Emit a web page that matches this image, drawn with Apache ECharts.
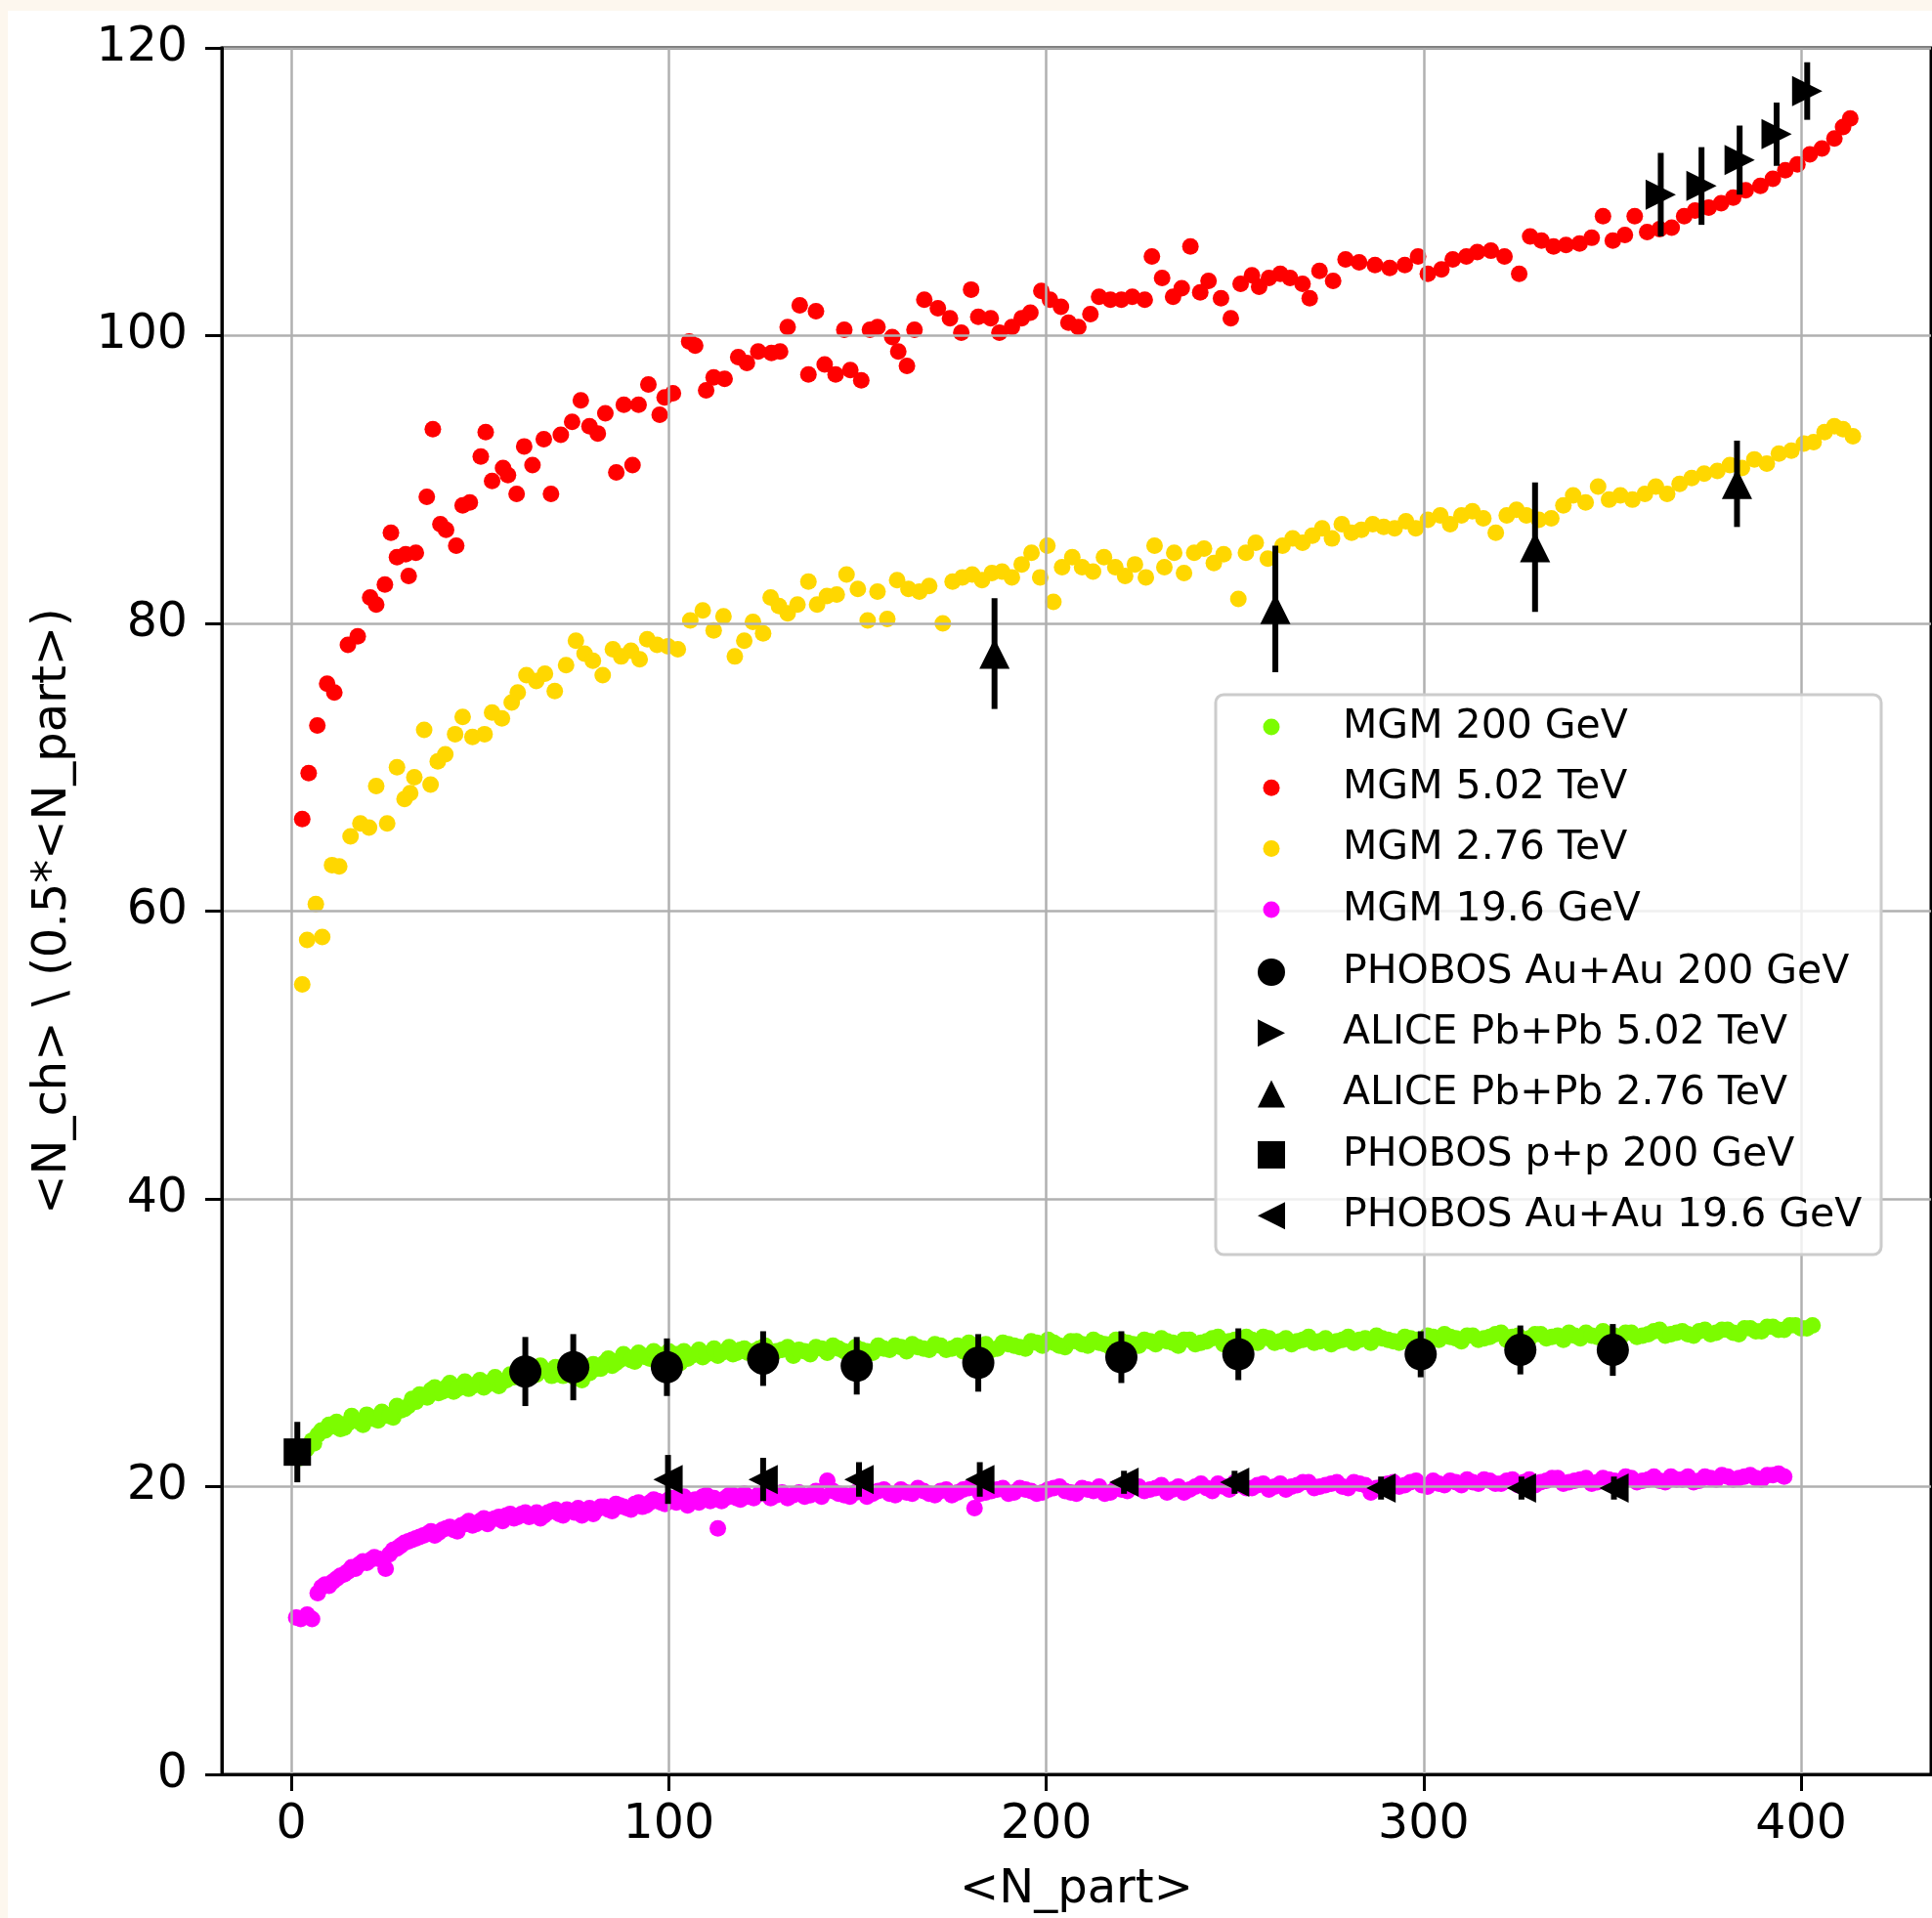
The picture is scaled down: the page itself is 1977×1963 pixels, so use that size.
<!DOCTYPE html>
<html><head><meta charset="utf-8">
<script src="https://cdn.jsdelivr.net/npm/echarts@6/dist/echarts.min.js"></script>
<style>html,body{margin:0;padding:0;background:#fdf7ee;}#c{width:1977px;height:1963px;}</style>
</head><body><div id="c"></div>
<script>
// ---------- tick labels ----------
const xTicks = [0, 100, 200, 300, 400];
const yTicks = [0, 20, 40, 60, 80, 100, 120];

// ---------- MGM model points [N_part, value] ----------
const mgm200 = [[2.5,22.0],[4,22.6],[5.5,23.2],[7,23.6],[9,23.9],[11,24.2],[13,24.0],[15,24.4],[17,24.6],[19,24.3],[21,24.8],[23,24.6],[25,25.0],[27,24.8],[29,25.3],[31,25.6],[33,25.9],[35,26.3],[37,26.7],[39,26.5],[41,26.9],[43,26.6],[45,27.0],[47,26.8],[49,27.1],[51,26.9],[53,27.3],[55,27.0],[57,27.4],[59,27.6],[61,27.9],[63,28.3],[65,27.8],[67,28.1],[69,27.7],[71,28.0],[73,28.3],[75,27.6],[77,27.4],[79,27.9],[81,28.2],[83,28.6],[85,28.4],[87,28.8],[89,29.0],[91,28.7],[93,29.1],[95,28.9],[97,29.2],[99,28.8],[101,29.0],[103,28.6],[105,28.9],[107,29.2],[109,29.0],[111,29.3],[113,29.1],[115,29.4],[117,29.2],[119,29.5],[121,29.3],[124,29.6],[127,29.2],[130,29.5],[133,29.1],[136,29.4],[139,29.7],[142,29.3],[145,29.6],[148,29.2],[151,29.5],[154,29.3],[157,29.6],[160,29.8],[163,29.4],[166,29.7],[169,29.5],[172,29.8],[175,29.6],[178,29.4],[181,29.7],[184,29.9],[187,29.6],[190,29.9],[193,29.7],[196,30.1],[199,29.8],[202,30.0],[205,29.7],[208,30.1],[211,29.8],[214,30.0],[217,29.7],[220,30.1],[223,29.9],[226,30.2],[229,29.9],[232,30.1],[235,29.8],[238,30.2],[241,30.0],[244,30.3],[247,29.9],[250,30.2],[253,30.4],[256,30.0],[259,30.3],[262,30.1],[265,29.9],[268,30.2],[271,30.0],[274,30.3],[277,30.1],[280,30.4],[283,30.2],[286,30.0],[289,30.3],[292,30.1],[295,30.4],[298,30.2],[301,30.5],[304,30.2],[307,30.4],[310,30.1],[313,30.5],[316,30.3],[319,30.6],[322,30.2],[325,30.5],[328,30.3],[331,30.6],[334,30.4],[337,30.2],[340,30.5],[343,30.7],[346,30.4],[349,30.6],[352,30.3],[355,30.7],[358,30.5],[361,30.8],[364,30.5],[367,30.7],[370,30.6],[373,30.8],[376,30.6],[379,30.9],[382,30.7],[385,31.0],[388,30.8],[391,31.1],[394,30.9],[397,31.2],[400,31.0],[403,31.2],
[6,23.0],[8,23.9],[10,24.3],[12,24.5],[14,24.1],[16,24.9],[18,24.5],[20,25.0],[22,24.7],[24,25.2],[26,24.9],[28,25.6],[30,25.4],[32,26.1],[34,26.4],[36,26.2],[38,26.9],[40,26.6],[42,27.2],[44,26.8],[46,27.3],[48,27.0],[50,27.4],[52,27.1],[54,27.6],[56,27.3],[58,27.8],[60,28.1],[62,27.7],[64,28.0],[66,28.4],[68,28.0],[70,28.3],[72,27.7],[74,28.0],[76,27.9],[78,28.3],[80,28.5],[82,28.2],[84,28.9],[86,28.6],[88,29.2],[90,28.8],[92,29.3],[94,29.0],[96,29.4],[98,29.1],[100,29.4],[102,29.2],[104,29.4],[106,29.1],[108,29.5],[110,29.2],[112,29.6],[114,29.3],[116,29.7],[118,29.3],[120,29.6],[122.5,29.4],[125.5,29.8],[128.5,29.4],[131.5,29.7],[134.5,29.5],[137.5,29.2],[140.5,29.6],[143.5,29.8],[146.5,29.4],[149.5,29.7],[152.5,29.4],[155.5,29.8],[158.5,29.5],[161.5,29.7],[164.5,29.9],[167.5,29.6],[170.5,29.9],[173.5,29.5],[176.5,29.8],[179.5,30.0],[182.5,29.7],[185.5,29.5],[188.5,30.0],[191.5,29.8],[194.5,29.6],[197.5,30.0],[200.5,30.2],[203.5,29.8],[206.5,30.1],[209.5,29.9],[212.5,30.2],[215.5,29.9],[218.5,30.2],[221.5,30.0],[224.5,29.8],[227.5,30.1],[230.5,30.3],[233.5,30.0],[236.5,30.2],[239.5,29.9],[242.5,30.1],[245.5,30.4],[248.5,30.1],[251.5,29.9],[254.5,30.2],[257.5,30.4],[260.5,30.0],[263.5,30.3],[266.5,30.1],[269.5,30.4],[272.5,30.1],[275.5,29.9],[278.5,30.2],[281.5,30.0],[284.5,30.3],[287.5,30.5],[290.5,30.2],[293.5,30.0],[296.5,30.3],[299.5,30.1],[302.5,30.4],[305.5,30.6],[308.5,30.3],[311.5,30.5],[314.5,30.2],[317.5,30.4],[320.5,30.7],[323.5,30.4],[326.5,30.2],[329.5,30.6],[332.5,30.3],[335.5,30.5],[338.5,30.7],[341.5,30.3],[344.5,30.5],[347.5,30.8],[350.5,30.5],[353.5,30.7],[356.5,30.4],[359.5,30.6],[362.5,30.9],[365.5,30.6],[368.5,30.8],[371.5,30.5],[374.5,30.9],[377.5,30.7],[380.5,30.9],[383.5,30.6],[386.5,31.0],[389.5,30.8],[392.5,31.1],[395.5,30.9],[398.5,31.2],[401.5,31.0]];

const mgm502 = [[2.9,66.4],[4.6,69.6],[6.9,72.9],[9.5,75.8],[11.4,75.2],[15,78.5],[17.6,79.1],[20.9,81.8],[22.5,81.3],[24.8,82.7],[26.4,86.3],[28,84.6],[30.3,84.8],[31.1,83.3],[33,84.9],[35.9,88.8],[37.5,93.5],[39.5,86.9],[41,86.5],[43.7,85.4],[45.4,88.2],[47.3,88.4],[50.2,91.6],[51.5,93.3],[53.2,89.9],[56.1,90.8],[57.4,90.3],[59.7,89],[61.7,92.3],[63.9,91],[66.9,92.8],[68.8,89],[71.4,93.1],[74.4,94],[76.7,95.5],[79,93.7],[81.2,93.2],[83.2,94.6],[86.1,90.5],[88.1,95.2],[90.4,91],[92,95.2],[94.6,96.6],[97.6,94.5],[98.9,95.7],[101.1,96],[105.4,99.6],[107,99.3],[109.9,96.2],[111.9,97.1],[114.8,97],[118.4,98.5],[120.7,98.1],[123.7,98.9],[127.2,98.8],[129.5,98.9],[131.5,100.6],[134.7,102.1],[137,97.3],[139,101.7],[141.3,98],[144.2,97.3],[146.5,100.4],[148.1,97.6],[151,96.9],[153.3,100.4],[155.3,100.6],[159.2,99.9],[160.8,98.9],[163.1,97.9],[165.1,100.4],[167.7,102.5],[171.3,101.9],[174.5,101.2],[177.5,100.2],[180.1,103.2],[182,101.3],[185.3,101.2],[187.6,100.2],[190.9,100.6],[193.5,101.2],[195.8,101.6],[198.7,103.1],[201,102.5],[203.9,102],[205.9,100.9],[208.5,100.6],[211.7,101.5],[214,102.7],[217,102.5],[219.9,102.5],[222.8,102.7],[226.1,102.5],[228,105.5],[230.7,104],[233.6,102.7],[235.9,103.3],[238.2,106.2],[240.8,103],[243,103.8],[246.3,102.6],[248.9,101.2],[251.5,103.6],[254.5,104.2],[256.4,103.4],[259,104],[262,104.3],[264.6,104],[267.9,103.6],[269.8,102.6],[272.4,104.5],[276,103.8],[279.3,105.3],[282.9,105.1],[287.1,104.9],[291,104.7],[295,104.9],[298.5,105.5],[301.1,104.3],[304.7,104.6],[307.7,105.3],[311.3,105.5],[314.2,105.8],[317.8,105.9],[321.4,105.5],[325.3,104.3],[328.2,106.9],[331.2,106.6],[334.4,106.2],[337.7,106.3],[341.3,106.4],[344.5,106.8],[347.5,108.3],[350.1,106.6],[353.3,107],[355.9,108.3],[359.2,107.2],[362.5,107.4],[365.7,107.5],[369,108.3],[371.9,108.7],[375.5,108.9],[378.8,109.2],[382,109.6],[385.3,110.1],[389.2,110.4],[392.5,110.9],[395.8,111.5],[399,111.9],[402.3,112.6],[405.5,113],[408.8,113.7],[411.1,114.5],[413,115.1]];

const mgm276 = [[2.9,54.9],[4.2,58],[6.5,60.5],[8.2,58.2],[10.8,63.2],[12.7,63.1],[15.7,65.2],[18.3,66.1],[20.6,65.8],[22.5,68.7],[25.4,66.1],[28,70],[30,67.8],[31.5,68.2],[32.6,69.3],[35.2,72.6],[36.9,68.8],[38.8,70.4],[40.8,70.9],[43.4,72.3],[45.4,73.5],[48,72.1],[51.2,72.3],[53.2,73.8],[55.8,73.4],[58.4,74.5],[60,75.2],[62.3,76.4],[64.9,76],[67.2,76.5],[69.8,75.3],[72.8,77.1],[75.4,78.8],[77.7,77.9],[79.9,77.4],[82.5,76.4],[85.2,78.2],[87.4,77.7],[90,78.1],[92.3,77.5],[94.3,78.9],[96.9,78.5],[99.8,78.4],[102.4,78.2],[105.7,80.2],[109,80.9],[111.9,79.5],[114.5,80.5],[117.5,77.7],[120,78.8],[122.3,80.1],[125,79.3],[127,81.8],[129.2,81.2],[131.5,80.7],[134.1,81.3],[137,82.9],[139.3,81.3],[141.9,81.9],[144.5,82],[147.1,83.4],[150.1,82.4],[152.7,80.2],[155.3,82.2],[157.9,80.3],[160.5,83],[163.5,82.4],[166.4,82.2],[169,82.6],[172.6,80],[175.2,82.9],[177.8,83.2],[180.4,83.4],[183,83],[185.6,83.5],[188.3,83.6],[190.9,83.2],[193.5,84.1],[196.1,84.9],[198.4,83.2],[200.3,85.4],[201.9,81.5],[204.2,83.9],[206.9,84.6],[209.5,83.9],[212.4,83.6],[215.3,84.6],[218.3,83.9],[220.9,83.3],[223.5,84.1],[226.4,83.2],[228.7,85.4],[231.3,83.9],[233.9,84.9],[236.5,83.5],[239.2,84.9],[241.8,85.2],[244.4,84.2],[247,84.8],[250.9,81.7],[252.9,84.9],[255.5,85.6],[258.7,84.5],[262.6,85.4],[265.3,85.9],[267.9,85.6],[270.5,86.1],[273.1,86.6],[275.7,85.9],[278.3,86.9],[280.9,86.3],[283.5,86.5],[286.5,86.9],[289.4,86.7],[292.3,86.6],[295.3,87.1],[297.9,86.6],[301.1,87.2],[304.4,87.5],[307,86.9],[310,87.5],[312.9,87.8],[315.8,87.3],[319.1,86.3],[322,87.5],[324.6,87.9],[327.2,87.5],[330.5,87.2],[333.8,87.3],[337,88.2],[339.6,88.9],[342.9,88.4],[346.2,89.5],[349.1,88.6],[352.1,88.9],[355.3,88.6],[358.6,89],[361.5,89.5],[364.5,89],[367.8,89.7],[371,90.1],[374.3,90.4],[377.8,90.6],[381.1,91],[384.3,90.8],[387.6,91.4],[390.9,91.1],[394.1,91.8],[397.4,92],[400.7,92.5],[403.3,92.6],[406.2,93.3],[408.8,93.7],[411.1,93.5],[413.7,93]];

const mgm196 = [[1.3,10.9],[4.2,11.1],[5.5,10.8],[7,12.6],[9,13.2],[11,13.4],[13,13.8],[15,14.1],[17,14.3],[19,14.8],[21,14.9],[23,15.0],[25,14.3],[27,15.6],[29,15.9],[31,16.2],[33,16.4],[35,16.6],[37,16.9],[39,16.8],[41,17.1],[43,17.0],[45,17.3],[47,17.6],[49,17.4],[51,17.8],[53,17.7],[55,17.9],[57,18.0],[59,17.8],[61,18.1],[63,17.9],[65,18.2],[67,18.0],[69,18.3],[71,18.1],[73,18.4],[75,18.2],[77,18.0],[79,18.5],[81,18.4],[83,18.6],[85,18.3],[87,18.7],[89,18.5],[91,18.8],[93,18.6],[95,18.9],[97,19.0],[99,18.8],[101,19.2],[103,19.0],[105,18.7],[107,19.1],[109,19.3],[111,19.0],[113,17.1],[115,19.2],[117,19.4],[119,19.1],[121,19.3],[124,19.5],[127,19.2],[130,19.6],[133,19.4],[136,19.3],[139,19.7],[142,20.4],[145,19.5],[148,19.3],[151,19.7],[154,19.5],[157,19.8],[160,19.4],[163,19.6],[166,19.9],[169,19.5],[172,19.7],[175,19.4],[178,19.8],[181,18.5],[184,19.6],[187,19.8],[190,19.5],[193,19.9],[196,19.7],[199,19.6],[202,19.9],[205,19.7],[208,19.5],[211,19.8],[214,20.0],[217,19.6],[220,19.8],[223,20.1],[226,19.7],[229,19.9],[232,19.6],[235,20.0],[238,19.8],[241,20.2],[244,19.7],[247,20.0],[250,20.3],[253,19.9],[256,20.1],[259,19.8],[262,20.2],[265,20.0],[268,20.3],[271,19.9],[274,20.1],[277,20.3],[280,19.9],[283,20.2],[286,19.6],[289,20.0],[292,20.3],[295,20.1],[298,20.4],[301,20.0],[304,20.2],[307,20.4],[310,20.1],[313,20.3],[316,20.5],[319,20.2],[322,20.4],[325,20.1],[328,20.5],[331,20.3],[334,20.6],[337,20.2],[340,20.4],[343,20.6],[346,20.3],[349,20.5],[352,20.2],[355,20.6],[358,20.4],[361,20.7],[364,20.3],[367,20.5],[370,20.7],[373,20.4],[376,20.6],[379,20.8],[382,20.5],[385,20.7],[388,20.6],[391,20.8],[394,20.9],[395.5,20.7],
[2.5,10.8],[8,13.0],[10,13.1],[12,13.6],[14,13.9],[16,14.4],[18,14.6],[20,14.7],[22,15.1],[26,15.3],[28,15.7],[30,16.1],[32,16.3],[34,16.5],[36,16.7],[38,16.6],[40,17.0],[42,17.2],[44,16.9],[46,17.4],[48,17.3],[50,17.6],[52,17.4],[54,17.8],[56,17.6],[58,18.1],[60,17.9],[62,18.2],[64,18.0],[66,17.8],[68,18.2],[70,18.4],[72,18.0],[74,18.3],[76,18.5],[78,18.3],[80,18.1],[82,18.6],[84,18.4],[86,18.8],[88,18.6],[90,18.4],[92,18.9],[94,18.7],[96,19.1],[98,18.9],[100,19.1],[102,18.9],[104,19.3],[106,19.0],[108,18.9],[110,19.4],[112,19.2],[114,19.0],[116,19.4],[118,19.2],[120,19.5],[122.5,19.2],[125.5,19.6],[128.5,19.4],[131.5,19.2],[134.5,19.6],[137.5,19.4],[140.5,19.3],[143.5,19.7],[146.5,19.4],[149.5,19.6],[152.5,19.3],[155.5,19.7],[158.5,19.5],[161.5,19.8],[164.5,19.5],[167.5,19.7],[170.5,19.4],[173.5,19.8],[176.5,19.6],[179.5,19.9],[182.5,19.5],[185.5,19.7],[188.5,19.9],[191.5,19.6],[194.5,19.8],[197.5,19.5],[200.5,19.8],[203.5,20.0],[206.5,19.6],[209.5,19.9],[212.5,19.7],[215.5,19.5],[218.5,19.9],[221.5,19.7],[224.5,20.0],[227.5,19.8],[230.5,20.1],[233.5,19.8],[236.5,19.6],[239.5,20.0],[242.5,19.9],[245.5,20.2],[248.5,19.8],[251.5,20.1],[254.5,19.9],[257.5,20.2],[260.5,20.0],[263.5,19.8],[266.5,20.1],[269.5,20.3],[272.5,20.0],[275.5,20.2],[278.5,20.0],[281.5,20.3],[284.5,20.1],[287.5,19.9],[290.5,20.2],[293.5,20.0],[296.5,20.3],[299.5,20.1],[302.5,20.4],[305.5,20.1],[308.5,20.3],[311.5,20.5],[314.5,20.2],[317.5,20.4],[320.5,20.2],[323.5,20.5],[326.5,20.3],[329.5,20.1],[332.5,20.4],[335.5,20.6],[338.5,20.3],[341.5,20.5],[344.5,20.2],[347.5,20.6],[350.5,20.4],[353.5,20.7],[356.5,20.3],[359.5,20.5],[362.5,20.4],[365.5,20.7],[368.5,20.5],[371.5,20.3],[374.5,20.7],[377.5,20.5],[380.5,20.7],[383.5,20.6],[386.5,20.8],[389.5,20.5],[392.5,20.8]];

// ---------- experimental data ----------
const phobos200X   = [62, 74.7, 99.5, 125, 149.8, 182, 219.9, 250.9, 299.2, 325.6, 350.1];
const phobos200Y   = [28.0, 28.3, 28.3, 28.9, 28.4, 28.6, 29.0, 29.2, 29.2, 29.5, 29.5];
const phobos200Err = [2.4, 2.3, 2.0, 1.9, 2.0, 2.0, 1.8, 1.8, 1.6, 1.7, 1.8];

const alice502X   = [362.8, 373.6, 383.7, 393.5, 401.6];
const alice502Y   = [109.8, 110.4, 112.2, 114.0, 117.0];
const alice502Err = [2.9, 2.7, 2.4, 2.2, 2.0];

const alice276X   = [186.3, 260.7, 329.5, 383.0];
const alice276Y   = [77.9, 81.0, 85.3, 89.7];
const alice276Err = [3.85, 4.4, 4.5, 3.0];

const ppX   = [1.6];
const ppY   = [22.4];
const ppErr = [2.1];

const phobos196X   = [99.8, 125, 150.4, 182.4, 220.6, 249.9, 288.7, 325.9, 350.4];
const phobos196Y   = [20.5, 20.5, 20.5, 20.5, 20.3, 20.3, 19.9, 19.9, 19.9];
const phobos196Err = [1.7, 1.5, 1.2, 1.2, 0.8, 0.8, 0.8, 0.8, 0.8];

// ---------- names ----------
const modelNames = ['MGM 200 GeV', 'MGM 5.02 TeV', 'MGM 2.76 TeV', 'MGM 19.6 GeV'];
const dataNames = ['PHOBOS Au+Au 200 GeV', 'ALICE Pb+Pb 5.02 TeV', 'ALICE Pb+Pb 2.76 TeV', 'PHOBOS p+p 200 GeV', 'PHOBOS Au+Au 19.6 GeV'];

const FONT = 'DejaVu Sans';
const SYM_RIGHT = 'path://M0,0L10,5L0,10Z';
const SYM_LEFT = 'path://M10,0L0,5L10,10Z';
const SYM_UP = 'path://M5,0L10,10L0,10Z';
const SYM_SQ = 'path://M0,0L10,0L10,10L0,10Z';

function pts(xs, ys) { return xs.map((x, i) => [x, ys[i]]); }
function errs(xs, ys, es) { return xs.map((x, i) => [x, ys[i] - es[i], ys[i] + es[i]]); }

function errRender(params, api) {
  const x = api.value(0);
  const p1 = api.coord([x, api.value(1)]);
  const p2 = api.coord([x, api.value(2)]);
  return { type: 'line', shape: { x1: p1[0], y1: p1[1], x2: p2[0], y2: p2[1] },
           style: { stroke: '#000', lineWidth: 6 } };
}

function modelSeries(name, data, color) {
  return { name, type: 'scatter', data, symbol: 'circle', symbolSize: 17, z: 2,
           itemStyle: { color, opacity: 1 }, silent: true, emphasis: { disabled: true } };
}
function dataSeries(name, data, symbol, size) {
  return { name, type: 'scatter', data, symbol, symbolSize: size, z: 6,
           itemStyle: { color: '#000', opacity: 1 }, silent: true, emphasis: { disabled: true } };
}
function errSeries(id, data) {
  return { name: id, type: 'custom', renderItem: errRender, data, z: 5, silent: true,
           encode: { x: 0, y: [1, 2] } };
}

const chart = echarts.init(document.getElementById('c'), null, { renderer: 'canvas' });
const legendText = { fontSize: 41, color: '#000', fontFamily: FONT, lineHeight: 50 };

chart.setOption({
  animation: false,
  backgroundColor: '#fdf7ee',
  textStyle: { fontFamily: FONT },
  graphic: [
    { type: 'rect', shape: { x: 8, y: 11, width: 1977, height: 1963 }, style: { fill: '#ffffff' }, z: -100, silent: true },
    { type: 'rect', shape: { x: 1244, y: 711, width: 681, height: 573, r: 8 },
      style: { fill: 'rgba(255,255,255,0.8)', stroke: '#cccccc', lineWidth: 3 }, z: 19, silent: true }
  ],
  grid: { left: 227, top: 49, right: 1, bottom: 147, show: true, backgroundColor: '#ffffff',
          borderColor: '#000', borderWidth: 3, outerBoundsMode: 'none', containLabel: false },
  xAxis: {
    type: 'value', min: -18.4, max: 434.4, z: 3,
    name: '<N_part>', nameLocation: 'middle', nameGap: 95,
    nameTextStyle: { fontSize: 48, color: '#000', fontFamily: FONT },
    axisLine: { show: true, onZero: false, lineStyle: { color: '#000', width: 3 } },
    axisTick: { show: true, length: 17, customValues: xTicks, lineStyle: { color: '#000', width: 3 } },
    axisLabel: { customValues: xTicks, fontSize: 49, color: '#000', margin: 28, fontFamily: FONT },
    splitLine: { show: true, lineStyle: { color: '#b0b0b0', width: 2.5 } }
  },
  yAxis: {
    type: 'value', min: 0, max: 120, interval: 20, z: 3,
    name: '<N_ch> \\ (0.5*<N_part>)', nameLocation: 'middle', nameGap: 148, nameRotate: 90,
    nameTextStyle: { fontSize: 48, color: '#000', fontFamily: FONT },
    axisLine: { show: true, onZero: false, lineStyle: { color: '#000', width: 3 } },
    axisTick: { show: true, length: 17, lineStyle: { color: '#000', width: 3 } },
    axisLabel: { fontSize: 49, color: '#000', margin: 35, fontFamily: FONT,
                 customValues: yTicks },
    splitLine: { show: true, lineStyle: { color: '#b0b0b0', width: 2.5 } }
  },
  legend: [
    { data: modelNames.map(n => ({ name: n, icon: 'circle' })), orient: 'vertical',
      left: 1292.5, top: 719, itemWidth: 136, itemHeight: 17, itemGap: 12.3, padding: 0,
      z: 20, selectedMode: false, textStyle: legendText },
    { data: [
        { name: dataNames[0], icon: 'circle' },
        { name: dataNames[1], icon: SYM_RIGHT },
        { name: dataNames[2], icon: SYM_UP },
        { name: dataNames[3], icon: SYM_SQ },
        { name: dataNames[4], icon: SYM_LEFT } ],
      orient: 'vertical', left: 1287, top: 970, itemWidth: 136, itemHeight: 28, itemGap: 12.3,
      padding: 0, z: 20, selectedMode: false, textStyle: legendText }
  ],
  series: [
    modelSeries(modelNames[0], mgm200, '#7cfc00'),
    modelSeries(modelNames[1], mgm502, '#ff0000'),
    modelSeries(modelNames[2], mgm276, '#ffd700'),
    modelSeries(modelNames[3], mgm196, '#ff00ff'),
    errSeries('e1', errs(phobos200X, phobos200Y, phobos200Err)),
    errSeries('e2', errs(alice502X, alice502Y, alice502Err)),
    errSeries('e3', errs(alice276X, alice276Y, alice276Err)),
    errSeries('e4', errs(ppX, ppY, ppErr)),
    errSeries('e5', errs(phobos196X, phobos196Y, phobos196Err)),
    dataSeries(dataNames[0], pts(phobos200X, phobos200Y), 'circle', 33),
    dataSeries(dataNames[1], pts(alice502X, alice502Y), SYM_RIGHT, 31),
    dataSeries(dataNames[2], pts(alice276X, alice276Y), SYM_UP, 31),
    dataSeries(dataNames[3], pts(ppX, ppY), SYM_SQ, 28),
    dataSeries(dataNames[4], pts(phobos196X, phobos196Y), SYM_LEFT, 30)
  ]
});
</script></body></html>
